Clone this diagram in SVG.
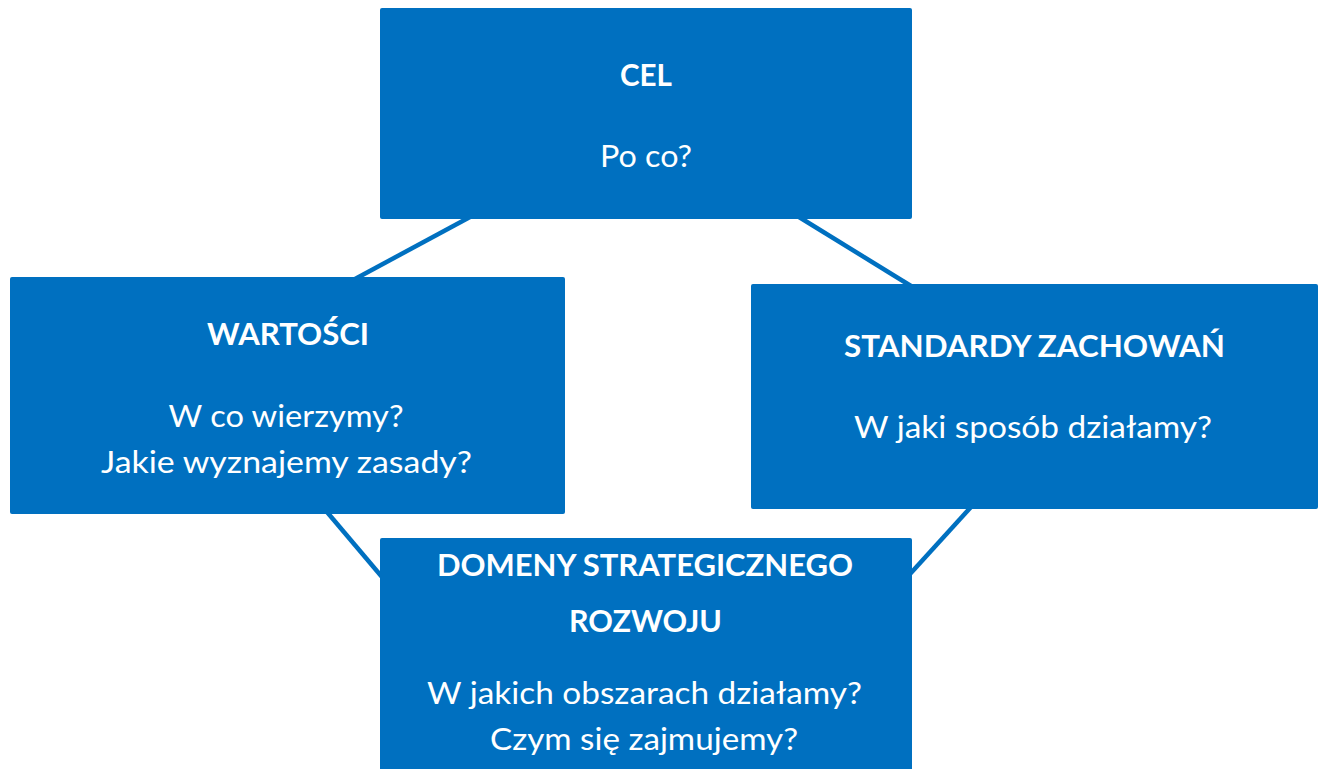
<svg xmlns="http://www.w3.org/2000/svg" width="1325" height="769" viewBox="0 0 1325 769">
  <style>
    .box { fill: #0070C0; }
    .conn { stroke: #0070C0; stroke-width: 4.5; fill: none; }
    .t { font-family: Lato, "Open Sans", "Liberation Sans", sans-serif; font-size: 31px; fill: #FFFFFF; text-anchor: middle; }
    .b { font-weight: bold; }
  </style>
  <rect width="1325" height="769" fill="#FFFFFF"/>
  <g id="connectors">
    <line class="conn" x1="470" y1="217" x2="355" y2="279"/>
    <line class="conn" x1="799" y1="217" x2="911" y2="286"/>
    <line class="conn" x1="327" y1="512" x2="382" y2="577"/>
    <line class="conn" x1="971" y1="507" x2="910" y2="574"/>
  </g>
  <g id="node-cel">
    <rect class="box" x="380" y="8" width="532" height="211" rx="2"/>
    <text class="t b" x="646" y="86" textLength="52" lengthAdjust="spacingAndGlyphs">CEL</text>
    <text class="t" x="646" y="167" textLength="92" lengthAdjust="spacingAndGlyphs">Po co?</text>
  </g>
  <g id="node-wartosci">
    <rect class="box" x="10" y="277" width="555" height="237" rx="2"/>
    <text class="t b" x="288" y="345" textLength="162" lengthAdjust="spacingAndGlyphs">WARTOŚCI</text>
    <text class="t" x="286" y="427" textLength="235" lengthAdjust="spacingAndGlyphs">W co wierzymy?</text>
    <text class="t" x="286.5" y="473" textLength="371" lengthAdjust="spacingAndGlyphs">Jakie wyznajemy zasady?</text>
  </g>
  <g id="node-standardy">
    <rect class="box" x="751" y="284" width="567" height="225" rx="2"/>
    <text class="t b" x="1034.5" y="357" textLength="381" lengthAdjust="spacingAndGlyphs">STANDARDY ZACHOWAŃ</text>
    <text class="t" x="1033" y="438" textLength="358" lengthAdjust="spacingAndGlyphs">W jaki sposób działamy?</text>
  </g>
  <g id="node-domeny">
    <rect class="box" x="380" y="538" width="532" height="245" rx="2"/>
    <text class="t b" x="645" y="576" textLength="416" lengthAdjust="spacingAndGlyphs">DOMENY STRATEGICZNEGO</text>
    <text class="t b" x="645.5" y="632" textLength="153" lengthAdjust="spacingAndGlyphs">ROZWOJU</text>
    <text class="t" x="644.5" y="704" textLength="435" lengthAdjust="spacingAndGlyphs">W jakich obszarach działamy?</text>
    <text class="t" x="644" y="750" textLength="308" lengthAdjust="spacingAndGlyphs">Czym się zajmujemy?</text>
  </g>
</svg>
